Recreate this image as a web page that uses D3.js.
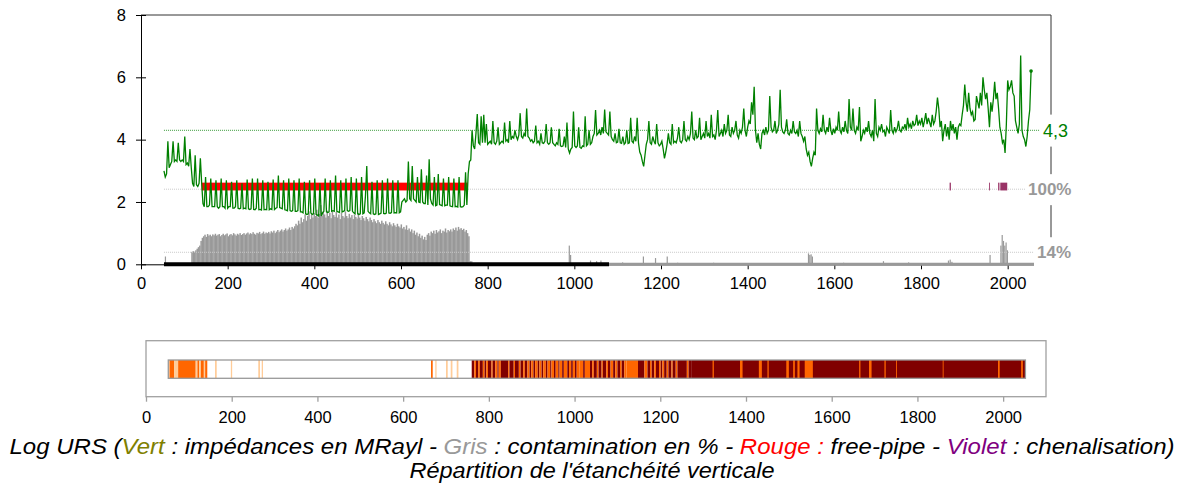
<!DOCTYPE html>
<html><head><meta charset="utf-8">
<script src="https://cdn.jsdelivr.net/npm/d3@7"></script>
<style>body{margin:0;background:#fff}svg{display:block;font-family:"Liberation Sans",Arial,sans-serif}</style>
</head><body><svg id="c" width="1184" height="488"></svg>
<script>
// ---------- DATA ----------
const depthStart = 53, depthStep = 3;
const impedance = [
3.0,2.8,2.9,3.95,3.1,3.2,3.3,3.95,3.3,3.35,3.3,3.9,3.35,3.3,3.35,3.3,4.1,3.2,3.25,3.15,
3.7,3.1,2.6,2.5,3.5,2.55,2.5,2.6,3.4,2.6,1.95,1.85,2.8,1.85,1.85,1.9,2.75,1.85,1.85,1.85,
2.7,1.85,1.8,1.85,2.75,1.85,1.85,1.8,2.7,1.8,1.85,1.85,2.65,1.8,1.8,1.85,2.7,1.8,1.78,1.8,
2.6,1.78,1.8,1.78,2.72,1.78,1.76,1.78,2.75,1.76,1.75,1.8,2.75,1.75,1.76,1.74,2.7,1.75,1.76,1.75,
2.65,1.75,1.78,1.76,2.72,1.76,1.8,1.82,2.85,1.82,1.8,1.78,2.7,1.75,1.74,1.72,2.75,1.72,1.7,1.72,
2.7,1.7,1.7,1.72,2.75,1.68,1.68,1.65,2.65,1.62,1.6,1.62,2.7,1.65,1.6,1.62,2.75,1.6,1.58,1.55,
2.6,1.55,1.65,1.7,2.75,1.68,1.66,1.68,2.7,1.7,1.72,1.7,2.85,1.7,1.68,1.66,2.7,1.68,1.7,1.72,
2.75,1.72,1.7,1.72,2.8,1.7,1.65,1.62,2.75,1.62,1.6,1.62,2.8,1.62,1.65,2.2,3.15,1.7,1.65,1.62,
2.65,1.62,1.6,1.62,2.7,1.6,1.62,1.64,2.7,1.63,1.62,1.64,2.75,1.65,1.64,1.66,2.7,1.65,1.66,1.65,
2.7,1.65,1.68,2.0,2.05,2.1,2.0,2.05,3.3,2.1,2.05,3.15,2.1,2.05,2.0,2.8,2.0,1.98,3.05,2.0,
1.95,1.95,2.85,1.9,3.37,2.1,1.95,1.9,2.8,1.88,1.9,2.9,1.92,1.9,1.88,2.75,1.88,1.9,1.9,2.8,
1.88,1.86,1.85,2.75,1.85,1.86,1.84,2.8,1.85,1.84,1.85,1.9,2.95,1.9,2.9,3.3,3.35,4.3,3.8,3.7,
4.2,4.82,3.9,3.85,4.75,3.9,4.8,3.9,4.5,3.85,3.9,3.95,3.85,4.6,3.9,3.85,3.95,4.4,3.85,3.9,
3.95,3.9,4.55,3.95,4.0,3.9,4.6,4.0,4.1,4.05,4.3,4.1,4.0,4.15,4.85,4.1,4.05,4.2,4.1,5.0,
4.1,4.05,3.95,4.0,3.9,3.95,4.45,3.9,3.95,3.85,4.2,3.9,3.88,3.95,4.5,3.9,3.85,3.9,4.4,3.9,
3.85,3.8,3.9,3.85,4.35,3.8,3.78,3.8,4.1,3.75,4.55,3.7,3.57,3.7,3.75,4.9,3.8,3.75,3.8,4.4,
3.75,3.72,3.8,3.78,4.75,3.8,3.85,4.3,3.85,3.9,4.1,4.2,4.95,4.15,4.2,4.3,4.15,4.4,4.2,4.97,
4.25,4.2,4.15,4.9,4.1,4.0,3.95,4.2,3.9,3.92,4.35,3.9,3.88,4.1,3.85,3.9,4.3,3.88,3.9,4.7,
3.95,3.9,4.1,3.95,4.7,3.9,3.6,3.5,3.3,3.14,3.5,3.85,4.0,4.6,3.9,3.85,4.1,3.95,3.85,4.5,
3.9,3.8,3.85,3.95,3.7,3.4,3.6,3.85,4.2,3.9,3.85,4.5,3.9,3.95,3.9,4.05,4.4,3.95,3.9,4.0,
4.6,4.0,3.95,4.1,4.0,4.2,4.9,4.05,4.0,4.3,4.05,4.1,4.7,4.0,4.1,4.2,4.05,4.6,4.1,4.2,
4.05,4.8,4.1,4.15,4.0,4.3,4.95,4.1,4.2,4.3,4.1,4.5,4.2,4.3,4.8,4.15,4.1,4.4,4.2,4.3,
4.6,4.15,4.05,4.3,4.2,4.4,5.0,4.3,4.1,4.4,4.6,4.5,5.2,4.8,5.7,4.3,3.9,4.2,3.85,3.7,
4.2,4.3,4.15,4.4,4.2,4.3,5.4,4.4,4.25,4.3,4.6,4.2,4.3,4.5,5.6,4.4,4.25,4.2,4.3,4.65,
4.2,4.15,4.3,4.2,4.6,4.25,4.2,4.3,4.1,4.6,4.2,4.1,3.95,4.1,3.7,3.5,3.6,3.3,3.14,3.4,
3.6,3.5,5.0,4.3,4.2,4.35,4.25,4.8,4.3,4.2,4.4,4.25,4.7,4.3,4.15,4.35,4.2,4.4,4.3,4.9,
4.3,4.2,4.4,4.25,4.6,4.3,4.2,5.3,4.4,4.3,5.0,4.3,4.2,4.4,4.3,5.05,3.95,4.1,4.3,4.2,
4.4,4.25,4.6,4.2,4.1,4.3,3.95,5.3,4.2,4.1,4.4,4.3,4.5,4.25,4.3,4.1,4.4,4.3,4.2,4.95,
4.3,4.2,4.4,4.25,4.35,4.6,4.3,4.25,4.4,4.35,4.5,4.3,4.7,4.4,4.5,4.35,4.6,4.45,4.5,4.8,
4.45,4.6,4.5,4.7,4.4,4.6,4.85,4.5,4.7,4.55,4.4,4.8,4.5,4.6,4.9,5.35,5.0,4.4,4.6,3.95,
4.3,4.5,4.1,4.4,4.0,4.6,4.3,4.5,4.2,4.4,4.0,4.4,4.5,4.45,4.8,5.1,5.77,5.2,4.9,5.5,
5.0,4.8,4.9,4.6,4.65,5.4,5.2,5.0,5.5,5.1,6.0,5.6,5.3,5.5,5.0,4.4,5.2,4.9,5.3,5.86,
5.3,5.5,5.0,4.4,4.2,3.9,4.0,3.57,4.5,5.9,5.6,5.7,5.9,5.5,5.4,4.6,4.4,4.2,4.5,6.7,
4.3,4.1,4.0,3.78,4.1,4.6,4.96,6.2
];
const contamStart = 113, contamStep = 3;
const contamination = [
0,0.4,0.42,0.4,0.45,0.5,0.55,0.6,0.75,0.85,0.9,0.95,0.88,0.97,0.92,0.95,0.9,0.96,0.93,0.98,
0.92,0.95,0.97,0.9,0.94,0.98,0.93,0.96,0.99,0.9,0.95,0.97,0.93,1.0,0.96,0.92,0.98,0.95,1.0,0.94,
0.97,1.0,0.95,0.99,1.02,0.96,1.0,0.97,1.03,0.98,0.95,1.01,0.99,1.04,0.97,1.0,1.05,0.98,1.02,1.0,
1.04,0.99,1.06,1.02,1.08,1.0,1.05,1.1,1.03,1.08,1.12,1.05,1.1,1.15,1.08,1.12,1.18,1.1,1.2,1.15,
1.22,1.3,1.25,1.4,1.3,1.5,1.35,1.45,1.6,1.4,1.55,1.7,1.45,1.6,1.5,1.65,1.55,1.75,1.5,1.62,
1.9,1.55,1.7,1.6,1.5,1.72,1.55,1.65,1.48,1.7,1.58,1.52,1.68,1.5,1.6,1.45,1.65,1.55,1.5,1.7,
1.55,1.48,1.62,1.5,1.58,1.45,1.6,1.52,1.47,1.65,1.5,1.42,1.55,1.48,1.4,1.52,1.45,1.38,1.5,1.42,
1.35,1.45,1.38,1.32,1.42,1.35,1.3,1.4,1.33,1.28,1.38,1.3,1.25,1.35,1.28,1.22,1.32,1.25,1.2,1.3,
1.22,1.18,1.28,1.15,1.2,1.12,1.25,1.1,1.15,1.05,1.12,1.0,1.08,0.95,1.02,0.9,0.98,0.85,0.92,0.8,
0.88,0.78,0.95,1.0,0.92,1.05,1.0,1.08,0.98,1.1,1.02,1.06,1.12,1.0,1.08,1.05,1.15,1.02,1.1,1.06,
1.12,1.05,1.15,1.1,1.18,1.08,1.2,1.12,1.16,1.1,1.14,1.05,1.1,1.0,0.9,0.1
];
const contamSpikes = [[55,0.25],[762,0.1],[987,0.6],[990,0.3],[1036,0.12],[1050,0.1],[1060,0.12],[1110,0.06],
 [1158,0.25],[1186,0.2],[1213,0.25],[1237,0.05],[1320,0.05],[1460,0.04],[1539,0.35],[1542,0.3],[1545,0.32],
 [1548,0.25],[1620,0.05],[1712,0.1],[1770,0.06],[1862,0.12],[1866,0.15],[1870,0.08],[1958,0.3],[1983,0.6],
 [1986,0.94],[1989,0.75],[1992,0.6],[1995,0.7],[1998,0.45]];
const freePipe = [[140,754]];
const channeling = [[1866,1869],[1957,1959],[1978,1981],[1983,1999]];
const bondBlack = [53,1080];
const bondGray = [1080,2062];
const meanImpedance = 4.3;
const meanLabel = "4,3";
const contamRefLevels = [2.41, 0.386];
const contamRefLabels = ["100%", "14%"];
const xTicks = [0,200,400,600,800,1000,1200,1400,1600,1800,2000];
const yTicks = [0,2,4,6,8];
const bandRange = [52,2052];
const bandColors = ["#ffffff","#ffcc99","#ff6600","#800000"];
const bandSegments = [
[52,55,1],[55,66,2],[66,75,1],[75,116,2],[116,120,1],[120,124,2],[124,128,1],[128,135,2],[135,138,1],[138,143,2],
[161,165,1],[198,201,1],[262,266,1],[270,273,1],
[665,669,2],[675,678,1],[700,704,1],[711,715,1],[725,729,1],
[760,766,3],[766,770,2],[770,775,3],[775,779,2],[779,786,3],[786,790,2],[790,794,3],[794,798,2],[798,806,3],[806,809,2],
[809,815,3],[815,820,2],[820,823,3],[823,828,2],[828,845,3],[845,848,2],[848,858,3],[858,861,2],[861,870,3],[870,874,2],
[874,880,3],[880,884,2],[884,890,3],[890,895,2],[895,899,3],[899,904,2],[904,908,3],[908,914,2],[914,918,3],[918,923,2],
[923,927,3],[927,933,2],[933,937,3],[937,943,2],[943,946,3],[946,952,2],[952,956,3],[956,962,2],[962,965,3],[965,971,2],
[971,975,3],[975,983,2],[983,987,3],[987,992,2],[992,996,3],[996,1001,2],[1001,1005,3],[1005,1012,2],
[1012,1020,2],[1020,1024,3],[1024,1036,2],[1036,1041,3],[1041,1045,2],[1045,1052,3],[1052,1056,2],[1056,1063,3],[1063,1066,2],
[1066,1074,3],[1074,1078,2],[1078,1084,3],[1084,1090,2],[1090,1095,3],[1095,1100,2],[1100,1106,3],[1106,1110,2],[1110,1116,3],
[1116,1121,2],[1121,1148,2],[1148,1163,3],[1163,1170,2],[1170,1176,3],[1176,1180,2],[1180,1186,3],[1186,1190,2],[1190,1197,3],
[1197,1201,2],[1201,1205,3],[1205,1209,2],[1209,1215,3],[1215,1219,2],[1219,1226,3],[1226,1229,2],[1229,1236,3],[1236,1240,2],
[1240,1262,3],[1262,1266,2],[1266,1272,3],
[1272,2052,3],
[1322,1325,2],[1386,1392,2],[1430,1437,2],[1450,1453,2],[1494,1500,2],[1510,1514,2],[1520,1525,2],[1537,1556,2],
[1664,1667,2],[1687,1693,2],[1723,1726,2],[1750,1752,2],[1859,1861,2],[1988,1992,2],[2042,2046,2]
];
const captionParts = [
 ["Log URS (", "#000"], ["Vert", "#808000"], [" : impédances en MRayl - ", "#000"], ["Gris", "#999999"],
 [" : contamination en % - ", "#000"], ["Rouge :", "#ff0000"], [" free-pipe - ", "#000"], ["Violet", "#800080"],
 [" : chenalisation)", "#000"]];
const caption2 = "Répartition de l'étanchéité verticale";

// ---------- DRAW ----------
const svg = d3.select("#c");
const x = d3.scaleLinear().domain([0,2100]).range([141,1051]);
const y = d3.scaleLinear().domain([0,8]).range([264.3,15]);
const fs = 16.5;
const fmt = d3.format("d");

// contamination bars
const contamData = contamination.map((v,i)=>[contamStart+i*contamStep, v]);
svg.append("g").selectAll("rect").data(contamData).join("rect")
  .attr("x", d=>x(d[0])).attr("width", x(contamStep)-x(0)+0.2)
  .attr("y", d=>y(d[1])).attr("height", d=>y(0)-y(d[1])).attr("fill","#999999");
svg.append("g").selectAll("rect").data(contamSpikes).join("rect")
  .attr("x", d=>x(d[0])).attr("width", 1.2)
  .attr("y", d=>y(d[1])).attr("height", d=>y(0)-y(d[1])).attr("fill","#999999");

// reference lines
const lastDepth = depthStart + (impedance.length-1)*depthStep;
svg.append("line").attr("x1",x(depthStart)).attr("x2",x(2100)).attr("y1",y(meanImpedance)).attr("y2",y(meanImpedance))
  .attr("stroke","#3a9a3a").attr("stroke-width",1).attr("stroke-dasharray","1,1");
contamRefLevels.forEach(v=>{
  svg.append("line").attr("x1",x(depthStart)).attr("x2",x(2100)).attr("y1",y(v)).attr("y2",y(v))
    .attr("stroke","#c8c8c8").attr("stroke-width",1).attr("stroke-dasharray","1,1");
});

// free-pipe band & channeling
svg.append("g").selectAll("rect").data(freePipe).join("rect")
  .attr("x",d=>x(d[0])).attr("width",d=>x(d[1])-x(d[0]))
  .attr("y",y(2.62)).attr("height",y(2.37)-y(2.62)).attr("fill","#ff0000");
svg.append("g").selectAll("rect").data(channeling).join("rect")
  .attr("x",d=>x(d[0])).attr("width",d=>x(d[1])-x(d[0]))
  .attr("y",y(2.62)).attr("height",y(2.37)-y(2.62)).attr("fill","#993366");

// impedance line
const line = d3.line().x((d,i)=>x(depthStart+i*depthStep)).y(d=>y(d));
svg.append("path").attr("d",line(impedance)).attr("fill","none").attr("stroke","#008000").attr("stroke-width",1.3);
svg.append("circle").attr("cx",x(lastDepth)).attr("cy",y(impedance[impedance.length-1])).attr("r",1.8).attr("fill","#008000");

// axes
svg.append("line").attr("x1",x(0)).attr("x2",x(2100)).attr("y1",y(8)).attr("y2",y(8)).attr("stroke","#333");
svg.append("line").attr("x1",x(2100)).attr("x2",x(2100)).attr("y1",y(8)).attr("y2",y(0)).attr("stroke","#333");
const gx = svg.append("g").attr("transform",`translate(0,${y(0)})`)
  .call(d3.axisBottom(x).tickValues(xTicks).tickFormat(fmt).tickSize(5).tickPadding(8).tickSizeOuter(0));
gx.select(".domain").attr("stroke","#000");
gx.selectAll("text").attr("font-size",fs).attr("font-family","Liberation Sans, Arial").attr("fill","#000").attr("dy","0.71em");
const gy = svg.append("g").attr("transform",`translate(${x(0)},0)`)
  .call(d3.axisLeft(y).tickValues(yTicks).tickFormat(fmt).tickSize(5).tickPadding(10).tickSizeOuter(0));
gy.selectAll(".tick line").attr("x2",-5).attr("x1",5);
gy.selectAll("text").attr("font-size",fs).attr("font-family","Liberation Sans, Arial").attr("fill","#000");

// bond baselines
svg.append("line").attr("x1",x(bondBlack[0])).attr("x2",x(bondBlack[1])).attr("y1",y(0)).attr("y2",y(0))
  .attr("stroke","#000").attr("stroke-width",4);
svg.append("line").attr("x1",x(bondGray[0])).attr("x2",x(bondGray[1])).attr("y1",y(0)).attr("y2",y(0))
  .attr("stroke","#999").attr("stroke-width",3);

// right labels with white backgrounds
function rightLabel(txt, yv, color, bold, xLeft, size){
  const t = svg.append("text").attr("x",xLeft).attr("y",y(yv)).attr("dy","0.35em")
    .attr("font-size",size).attr("fill",color).attr("font-weight",bold?"bold":"normal").text(txt);
  const b = t.node().getBBox();
  svg.insert("rect", () => t.node()).attr("x",b.x-3).attr("y",b.y-6).attr("width",b.width+8).attr("height",b.height+12).attr("fill","#fff");
}
rightLabel(meanLabel, meanImpedance, "#008000", false, 1043, 18);
rightLabel(contamRefLabels[0], contamRefLevels[0], "#999999", true, 1028, 17);
rightLabel(contamRefLabels[1], contamRefLevels[1], "#999999", true, 1037, 17);

// ---------- band ----------
const xb = d3.scaleLinear().domain([0,2100]).range([146,1046]);
const bandTop = 360, bandBot = 378.3;
svg.append("rect").attr("x",xb(0)).attr("y",340.7).attr("width",xb(2100)-xb(0)).attr("height",396.7-340.7)
  .attr("fill","#fff").attr("stroke","#a0a0a0").attr("stroke-width",1.3);
svg.append("g").selectAll("rect").data(bandSegments).join("rect")
  .attr("x",d=>xb(d[0])).attr("width",d=>xb(d[1])-xb(d[0]))
  .attr("y",bandTop).attr("height",bandBot-bandTop).attr("fill",d=>bandColors[d[2]]);
svg.append("rect").attr("x",xb(bandRange[0])).attr("y",bandTop).attr("width",xb(bandRange[1])-xb(bandRange[0]))
  .attr("height",bandBot-bandTop).attr("fill","none").attr("stroke","#999").attr("stroke-width",1.3);
const gb = svg.append("g").attr("transform","translate(0,396.7)")
  .call(d3.axisBottom(xb).tickValues(xTicks).tickFormat(fmt).tickSize(5).tickPadding(10).tickSizeOuter(0));
gb.select(".domain").remove();
gb.selectAll(".tick line").attr("stroke","#a0a0a0").attr("stroke-width",1.3);
gb.selectAll("text").attr("font-size",fs).attr("font-family","Liberation Sans, Arial").attr("fill","#000").attr("dy","0.71em");

// ---------- captions ----------
const c1 = svg.append("text").attr("x",592).attr("y",454).attr("text-anchor","middle")
  .attr("font-size",22).attr("font-style","italic")
  .attr("textLength",1165).attr("lengthAdjust","spacingAndGlyphs");
captionParts.forEach(p=>c1.append("tspan").attr("fill",p[1]).text(p[0]));
const c2 = svg.append("text").attr("x",592).attr("y",478).attr("text-anchor","middle")
  .attr("font-size",22).attr("font-style","italic").attr("fill","#000")
  .attr("textLength",365).attr("lengthAdjust","spacingAndGlyphs").text(caption2);
</script></body></html>
